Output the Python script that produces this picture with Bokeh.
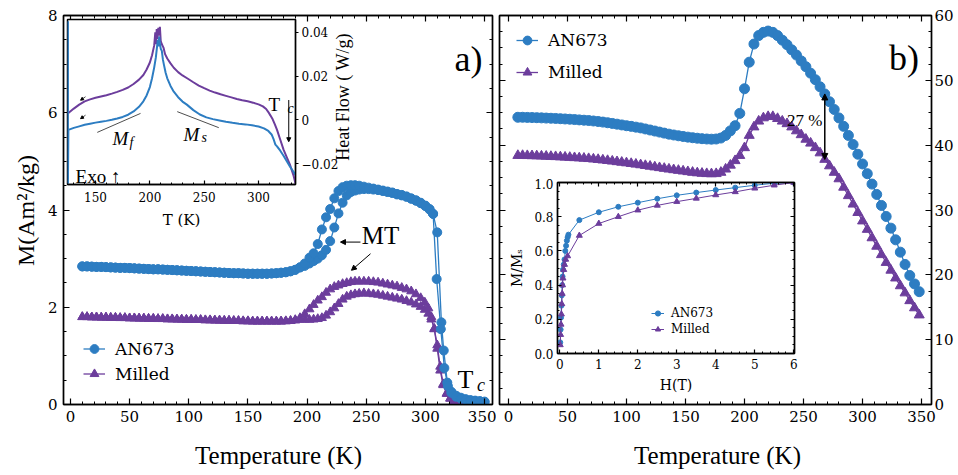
from bokeh.plotting import figure
from bokeh.models import (LinearAxis, Range1d, Legend, LegendItem, Label, Arrow,
                          NormalHead, GridBox, SingleIntervalTicker, FixedTicker,
                          PrintfTickFormatter)
from bokeh.embed import file_html
from bokeh.resources import INLINE

FONT = "Liberation Serif"
AXFONT = "DejaVu Serif"
BLUE = "#2d7dc2"
PURPLE = "#6c3d9c"

# ---------------- panel a : M(T) low field (two branches each) ----------------
a_flat_T = [10, 14, 18, 22, 26, 30, 34, 38, 42, 46, 50, 54, 58, 62, 66, 70, 74, 78, 82, 86,
            90, 94, 98, 102, 106, 110, 114, 118, 122, 126, 130, 134, 138, 142, 146, 150, 154,
            158, 162, 166, 170, 174, 178, 182, 186, 190, 194]
a_blue_flat_M = [2.84, 2.84, 2.835, 2.83, 2.83, 2.825, 2.82, 2.815, 2.81, 2.81, 2.805, 2.80,
                 2.795, 2.79, 2.785, 2.78, 2.78, 2.775, 2.77, 2.765, 2.76, 2.755, 2.75, 2.745,
                 2.74, 2.735, 2.73, 2.725, 2.72, 2.715, 2.71, 2.705, 2.70, 2.70, 2.695, 2.69,
                 2.69, 2.69, 2.69, 2.69, 2.695, 2.70, 2.71, 2.72, 2.74, 2.77, 2.82]
a_purple_flat_M = [1.80, 1.80, 1.795, 1.795, 1.79, 1.79, 1.785, 1.785, 1.78, 1.78, 1.775, 1.775,
                   1.77, 1.77, 1.765, 1.765, 1.76, 1.76, 1.755, 1.755, 1.75, 1.75, 1.745, 1.745,
                   1.74, 1.74, 1.735, 1.735, 1.73, 1.73, 1.725, 1.725, 1.72, 1.72, 1.715, 1.715,
                   1.71, 1.71, 1.71, 1.71, 1.71, 1.71, 1.71, 1.715, 1.72, 1.73, 1.745]

a_tr_T = [198, 202, 205.5, 209, 212.5, 216, 219.5, 223, 226.5, 230, 233.5, 237, 240.5, 244,
          248, 252, 256, 260, 264, 268, 272, 276, 280, 284, 288, 292, 296, 300, 303.5, 306.5]
a_blue1_tr_M = [2.90, 3.02, 3.11, 3.30, 3.60, 3.85, 4.02, 4.24, 4.39, 4.47, 4.50, 4.51, 4.51, 4.50,
                4.48, 4.46, 4.44, 4.42, 4.40, 4.38, 4.36, 4.33, 4.31, 4.28, 4.24, 4.20, 4.15, 4.09,
                4.02, 3.92]
a_blue2_tr_M = [2.85, 2.90, 2.95, 3.00, 3.07, 3.18, 3.36, 3.64, 3.93, 4.15, 4.30, 4.37, 4.40, 4.42,
                4.43, 4.43, 4.42, 4.41, 4.39, 4.37, 4.35, 4.32, 4.30, 4.27, 4.23, 4.19, 4.14, 4.08,
                4.01, 3.92]
a_blue1_tail_T = [309.5, 313, 316, 319, 322, 326, 330, 334, 338, 342, 346, 350]
a_blue1_tail_M = [2.58, 1.55, 0.75, 0.38, 0.24, 0.16, 0.12, 0.10, 0.08, 0.07, 0.06, 0.05]
a_blue2_tail_T = [310, 313.5, 315.5, 318.5, 322, 326, 330, 334, 338, 342, 346, 350]
a_blue2_tail_M = [3.54, 1.69, 1.11, 0.45, 0.26, 0.18, 0.14, 0.11, 0.09, 0.08, 0.07, 0.06]

a_ptr_T = [190, 194, 198, 202, 205.5, 209, 212.5, 216, 219.5, 223, 226.5, 230, 233.5, 237,
           240.5, 244, 248, 252, 256, 260, 264, 268, 272, 276, 280, 284, 288, 292, 296, 299.5,
           302.5, 305, 307.5, 310, 312.5, 315, 318, 321, 324, 328, 332, 336, 340, 344, 348]
a_purple1_M = [1.74, 1.78, 1.86, 1.96, 2.05, 2.14, 2.21, 2.30, 2.37, 2.42, 2.45, 2.48, 2.50, 2.52,
               2.53, 2.53, 2.53, 2.53, 2.52, 2.51, 2.49, 2.47, 2.45, 2.43, 2.40, 2.37, 2.33, 2.27,
               2.19, 2.10, 1.98, 1.80, 1.55, 1.15, 0.70, 0.40, 0.22, 0.12, 0.07, 0.04, 0.03, 0.02,
               0.015, 0.01, 0.01]
a_purple2_M = [1.73, 1.745, 1.745, 1.745, 1.75, 1.76, 1.78, 1.83, 1.90, 1.98, 2.07, 2.16, 2.22,
               2.25, 2.27, 2.28, 2.29, 2.28, 2.27, 2.26, 2.24, 2.22, 2.20, 2.18, 2.16, 2.13, 2.10,
               2.06, 2.01, 1.95, 1.87, 1.75, 1.56, 1.22, 0.78, 0.42, 0.23, 0.13, 0.08, 0.05, 0.03,
               0.02, 0.015, 0.01, 0.01]

# ---------------- inset a : DSC heat flow ----------------
dsc_purple_T = [124.5, 130, 135, 140, 145, 150, 155, 160, 165, 170, 175, 180, 185, 190, 194, 197,
                200, 202, 204, 205, 205.6, 206.3, 207, 207.8, 208.5, 209.2, 210, 211, 212.5, 214,
                216, 219, 222, 226, 230, 235, 240, 245, 250, 255, 260, 265, 270, 275, 280, 285,
                290, 295, 300, 304, 307, 309, 311, 313, 315, 317, 320, 323, 326, 329, 332, 334]
dsc_purple_H = [0.0030, 0.0052, 0.0070, 0.0085, 0.0094, 0.0101, 0.0107, 0.0113, 0.0120, 0.0128,
                0.0137, 0.0148, 0.0164, 0.0184, 0.0205, 0.0230, 0.0262, 0.0295, 0.0340, 0.0400,
                0.0345, 0.0415, 0.0370, 0.0420, 0.0385, 0.0425, 0.0360, 0.0345, 0.0330, 0.0300,
                0.0280, 0.0258, 0.0238, 0.0218, 0.0203, 0.0188, 0.0172, 0.0157, 0.0145, 0.0134,
                0.0125, 0.0117, 0.0110, 0.0103, 0.0096, 0.0090, 0.0085, 0.0079, 0.0071, 0.0062,
                0.0050, 0.0036, 0.0020, 0.0003, -0.0020, -0.0045, -0.0090, -0.0135, -0.0170,
                -0.0205, -0.0250, -0.0290]
dsc_blue_T = [124.6, 124.6, 125, 130, 135, 140, 145, 150, 155, 160, 165, 170, 175, 180, 185, 190,
              194, 197, 200, 202, 204, 205.5, 206.5, 207.3, 208, 208.6, 209.3, 210, 211, 212, 213,
              214.5, 216, 219, 222, 226, 230, 234, 240, 246, 252, 258, 264, 270, 276, 282, 288,
              294, 300, 305, 309, 312, 314, 315.5, 317, 320, 323, 326, 329, 332, 334]
dsc_blue_H = [0.045, -0.029, -0.0045, -0.0036, -0.0029, -0.0022, -0.0017, -0.0012, -0.0008,
              -0.0004, 0.0001, 0.0007, 0.0014, 0.0024, 0.0039, 0.0060, 0.0085, 0.0112, 0.0150,
              0.0190, 0.0240, 0.0285, 0.0330, 0.0365, 0.0335, 0.0380, 0.0345, 0.0325, 0.0315,
              0.0275, 0.0250, 0.0215, 0.0190, 0.0155, 0.0129, 0.0104, 0.0084, 0.0070, 0.0045,
              0.0025, 0.0012, 0.0004, -0.0002, -0.0008, -0.0013, -0.0017, -0.0020, -0.0024,
              -0.0030, -0.0038, -0.0050, -0.0066, -0.0090, -0.0112, -0.0120, -0.0140, -0.0163,
              -0.0188, -0.0213, -0.0235, -0.0250]

# ---------------- panel b : M(T) high field ----------------
b_T = [8, 12, 16, 20, 24, 28, 32, 36, 40, 44, 48, 52, 56, 60, 64, 68, 72, 76, 80, 84, 88, 92,
       96, 100, 104, 108, 112, 116, 120, 124, 128, 132, 136, 140, 144, 148, 152, 156, 160, 164,
       168, 172, 176, 180, 184, 188, 192, 196, 200, 204, 208, 212, 216, 220, 224, 228, 232, 236,
       240, 244, 248, 252, 256, 260, 264, 268, 272, 276, 280, 284, 288, 292, 296, 300, 304, 308,
       312, 316, 320, 324, 328, 332, 336, 340, 344, 348]
b_blue_M = [44.3, 44.3, 44.28, 44.26, 44.24, 44.21, 44.18, 44.15, 44.12, 44.08, 44.04, 44.0,
            43.95, 43.9, 43.85, 43.8, 43.73, 43.65, 43.56, 43.46, 43.35, 43.24, 43.12, 43.0,
            42.9, 42.78, 42.66, 42.5, 42.34, 42.18, 42.02, 41.86, 41.7, 41.57, 41.45, 41.34,
            41.24, 41.15, 41.07, 41.0, 40.95, 40.92, 40.95, 41.1, 41.5, 42.2, 43.0, 44.9, 48.7,
            52.8, 55.6, 56.9, 57.4, 57.6, 57.4, 56.9, 56.2, 55.5, 54.7, 53.9, 53.0, 52.1, 51.1,
            50.1, 49.0, 47.9, 46.7, 45.5, 44.2, 42.9, 41.5, 40.1, 38.6, 37.1, 35.6, 34.0, 32.4,
            30.7, 29.0, 27.2, 25.4, 23.5, 21.6, 19.9, 18.6, 17.4]
b_purple_M = [38.4, 38.4, 38.38, 38.36, 38.34, 38.31, 38.28, 38.25, 38.22, 38.18, 38.14, 38.1,
              38.06, 38.02, 37.97, 37.92, 37.85, 37.78, 37.7, 37.62, 37.53, 37.44, 37.35, 37.26,
              37.16, 37.06, 36.96, 36.85, 36.74, 36.63, 36.52, 36.41, 36.3, 36.2, 36.1, 36.0,
              35.9, 35.8, 35.72, 35.65, 35.6, 35.57, 35.6, 35.8, 36.3, 36.9, 37.6, 38.4, 39.6,
              41.5, 42.8, 43.7, 44.2, 44.4, 44.4, 44.1, 43.7, 43.3, 42.8, 42.2, 41.6, 40.9, 40.3,
              39.6, 38.8, 37.8, 36.8, 35.8, 34.8, 33.5, 32.2, 30.9, 29.6, 28.3, 27.0, 25.7, 24.4,
              23.1, 21.9, 20.7, 19.5, 18.3, 17.2, 16.0, 14.9, 13.8]

# ---------------- inset b : M/Ms vs H ----------------
mh_blue_H = [0.01, 0.02, 0.03, 0.04, 0.05, 0.06, 0.07, 0.08, 0.10, 0.12, 0.14, 0.16, 0.18, 0.20,
             0.22, 0.5, 1.0, 1.5, 2.0, 2.5, 3.0, 3.5, 4.0, 4.5, 5.0, 5.5, 6.0]
mh_blue_M = [0.065, 0.14, 0.21, 0.28, 0.34, 0.40, 0.45, 0.49, 0.52, 0.55, 0.60, 0.63, 0.66, 0.68,
             0.695, 0.78, 0.826, 0.858, 0.882, 0.905, 0.925, 0.941, 0.956, 0.970, 0.984, 0.996, 1.0]
mh_purple_H = [0.01, 0.02, 0.03, 0.04, 0.05, 0.06, 0.07, 0.08, 0.10, 0.12, 0.15, 0.2, 0.5, 1.0,
               1.5, 2.0, 2.5, 3.0, 3.5, 4.0, 4.5, 5.0, 5.5, 6.0]
mh_purple_M = [0.05, 0.11, 0.17, 0.23, 0.29, 0.35, 0.40, 0.44, 0.49, 0.52, 0.55, 0.57, 0.69, 0.76,
               0.80, 0.838, 0.866, 0.888, 0.907, 0.927, 0.945, 0.966, 0.984, 1.0]


def style_axis(ax, labels=True, size="15px", tin=6, tmin=3, standoff=4, tout=0):
    ax.major_tick_in = tin
    ax.major_tick_out = tout
    ax.minor_tick_in = tmin
    ax.minor_tick_out = 0
    ax.axis_line_color = "black"
    ax.axis_line_width = 1.3
    ax.major_tick_line_color = "black"
    ax.minor_tick_line_color = "black"
    ax.major_tick_line_width = 1.2
    ax.minor_tick_line_width = 1.0
    ax.major_label_text_font = AXFONT
    ax.axis_label_text_font = AXFONT
    ax.axis_label_text_color = "black"
    ax.axis_label_text_font_style = "normal"
    if labels:
        ax.major_label_text_color = "black"
        ax.major_label_text_font_size = size
        ax.major_label_standoff = standoff
    else:
        ax.major_label_text_color = None
        ax.major_label_text_font_size = "1px"
        ax.major_label_standoff = 0


def base_fig(**kw):
    p = figure(output_backend="svg", toolbar_location=None, **kw)
    p.xgrid.visible = False
    p.ygrid.visible = False
    p.outline_line_color = "black"
    p.outline_line_width = 1.5
    return p


def series(p, x, y, color, marker, size, lw):
    ln = p.line(x, y, line_color=color, line_width=lw)
    sc = p.scatter(x, y, marker=marker, size=size, fill_color=color, line_color=color)
    return [ln, sc]


def lbl(p, x, y, text, size, align="left", baseline="alphabetic", style="normal", angle=0):
    p.add_layout(Label(x=x, y=y, text=text, text_font=FONT, text_font_size=size,
                       text_align=align, text_baseline=baseline, text_font_style=style,
                       text_color="black", angle=angle, angle_units="deg"))


def arrow(p, x0, y0, x1, y1, size=5, both=False, lw=1.0):
    kw = {}
    if both:
        kw["start"] = NormalHead(size=size, fill_color="black", line_color="black")
    p.add_layout(Arrow(end=NormalHead(size=size, fill_color="black", line_color="black"),
                       x_start=x0, y_start=y0, x_end=x1, y_end=y1, line_color="black",
                       line_width=lw, **kw))


def label_fig(w, h, text, size, angle=0):
    # a bare, transparent figure whose only content is one centred axis-title label
    f = figure(width=w, height=h, output_backend="svg", toolbar_location=None,
               x_axis_location=None, y_axis_location=None,
               x_range=Range1d(0, 1), y_range=Range1d(0, 1),
               min_border_left=0, min_border_right=0, min_border_top=0, min_border_bottom=0)
    f.xgrid.visible = False
    f.ygrid.visible = False
    f.outline_line_color = None
    f.background_fill_alpha = 0
    f.border_fill_alpha = 0
    lbl(f, 0.5, 0.5, text, size, align="center", baseline="middle", angle=angle)
    return f


# ================= panel a =================
pA = base_fig(width=496, height=468, x_range=Range1d(-5.9, 356.7), y_range=Range1d(0, 8),
              min_border_left=63, min_border_right=4, min_border_top=15, min_border_bottom=64)
pA.xaxis.ticker = SingleIntervalTicker(interval=50, num_minor_ticks=5)
pA.yaxis.ticker = SingleIntervalTicker(interval=2, num_minor_ticks=4)
style_axis(pA.xaxis[0], standoff=6)
style_axis(pA.yaxis[0], standoff=6)
topA = LinearAxis(ticker=SingleIntervalTicker(interval=50, num_minor_ticks=5))
style_axis(topA, labels=False)
pA.add_layout(topA, "above")
rightA = LinearAxis(ticker=SingleIntervalTicker(interval=2, num_minor_ticks=4))
style_axis(rightA, labels=False)
pA.add_layout(rightA, "right")

b1_T = a_flat_T + a_tr_T + a_blue1_tail_T
b1_M = a_blue_flat_M + a_blue1_tr_M + a_blue1_tail_M
b2_T = a_flat_T + a_tr_T + a_blue2_tail_T
b2_M = a_blue_flat_M + a_blue2_tr_M + a_blue2_tail_M
p1_T = a_flat_T[:-2] + a_ptr_T
p1_M = a_purple_flat_M[:-2] + a_purple1_M
p2_T = a_flat_T[:-2] + a_ptr_T
p2_M = a_purple_flat_M[:-2] + a_purple2_M

rp2 = series(pA, p2_T, p2_M, PURPLE, "triangle", 9, 1.3)
rp1 = series(pA, p1_T, p1_M, PURPLE, "triangle", 9, 1.3)
rb2 = series(pA, b2_T, b2_M, BLUE, "circle", 9, 1.3)
rb1 = series(pA, b1_T, b1_M, BLUE, "circle", 9, 1.3)

legA = Legend(items=[LegendItem(label="AN673", renderers=rb1),
                     LegendItem(label="Milled", renderers=rp1)],
              location=(20, 18), label_text_font=AXFONT, label_text_font_size="17px",
              label_text_color="black", glyph_width=22, glyph_height=25, label_height=25,
              label_standoff=10, spacing=0, padding=0, margin=0, border_line_color=None,
              background_fill_alpha=0)
pA.add_layout(legA)

lbl(pA, 324.5, 7.11, "a)", "36px")
lbl(pA, 262, 3.48, "MT", "25px", align="center", baseline="middle")
arrow(pA, 245.1, 3.34, 228.2, 3.34)
arrow(pA, 253.6, 3.10, 237.5, 2.76)
lbl(pA, 327.1, 0.51, "T", "26px")
lbl(pA, 343.5, 0.41, "c", "18px", style="italic")

# ================= panel b =================
pB = base_fig(width=460, height=468, x_range=Range1d(-7.55, 358.4), y_range=Range1d(0, 60),
              y_axis_location="right",
              min_border_left=3, min_border_right=21, min_border_top=15, min_border_bottom=64)
pB.xaxis.ticker = SingleIntervalTicker(interval=50, num_minor_ticks=5)
pB.yaxis.ticker = SingleIntervalTicker(interval=10, num_minor_ticks=4)
style_axis(pB.xaxis[0], standoff=6)
style_axis(pB.yaxis[0], standoff=3)
topB = LinearAxis(ticker=SingleIntervalTicker(interval=50, num_minor_ticks=5))
style_axis(topB, labels=False)
pB.add_layout(topB, "above")
leftB = LinearAxis(ticker=SingleIntervalTicker(interval=10, num_minor_ticks=4))
style_axis(leftB, labels=False)
pB.add_layout(leftB, "left")

rbp = series(pB, b_T, b_purple_M, PURPLE, "triangle", 10, 1.3)
rbb = series(pB, b_T, b_blue_M, BLUE, "circle", 10, 1.3)

legB = Legend(items=[LegendItem(label="AN673", renderers=rbb),
                     LegendItem(label="Milled", renderers=rbp)],
              location=(17, 317), label_text_font=AXFONT, label_text_font_size="17px",
              label_text_color="black", glyph_width=22, glyph_height=30, label_height=30,
              label_standoff=10, spacing=2, padding=0, margin=0, border_line_color=None,
              background_fill_alpha=0)
pB.add_layout(legB)

lbl(pB, 322.5, 53.4, "b)", "36px")
i268 = b_T.index(268)
arrow(pB, 268, b_purple_M[i268], 268, b_blue_M[i268], size=6, both=True, lw=1.5)
lbl(pB, 235.9, 43.8, "27 %", "17px")

# ================= inset a =================
insA = base_fig(width=292, height=219, x_range=Range1d(124.2, 334),
                y_range=Range1d(-0.0294, 0.0458), y_axis_location="right",
                min_border_left=4, min_border_right=60, min_border_top=4, min_border_bottom=50)
insA.border_fill_alpha = 0
insA.background_fill_color = "white"
insA.xaxis.ticker = SingleIntervalTicker(interval=50, num_minor_ticks=5)
insA.yaxis.ticker = FixedTicker(ticks=[-0.02, 0, 0.02, 0.04])
insA.yaxis.major_label_overrides = {-0.02: "\u22120.02", 0: "0", 0.02: "0.02", 0.04: "0.04"}
insA.xaxis.axis_label = "T (K)"
style_axis(insA.xaxis[0], size="12px", tin=4, tmin=2, standoff=7)
style_axis(insA.yaxis[0], size="12px", tin=0, tmin=0, standoff=3, tout=3)
insA.xaxis.axis_label_text_font_size = "15px"
insA.xaxis.axis_label_standoff = 6

insA.line(dsc_purple_T, dsc_purple_H, line_color=PURPLE, line_width=2)
insA.line(dsc_blue_T, dsc_blue_H, line_color=BLUE, line_width=2)
insA.segment(x0=[151.6, 225.2], y0=[-0.00565, 0.0038], x1=[191.4, 263.4], y1=[0.0030, -0.0035],
             line_color="black", line_width=0.7)
lbl(insA, 165.6, -0.0084, "M", "19px", style="italic")
lbl(insA, 181.3, -0.0103, "f", "14px", style="italic")
lbl(insA, 231.0, -0.0068, "M", "19px", style="italic")
lbl(insA, 247.5, -0.0081, "s", "14px", style="italic")
lbl(insA, 131.6, -0.0258, "Exo \u2191", "19px")
lbl(insA, 309.2, 0.0070, "T", "19px")
lbl(insA, 326.6, 0.0051, "c", "14px", style="italic")
arrow(insA, 327.8, 0.0091, 327.8, -0.0099, size=4)
arrow(insA, 140.8, 0.0106, 136.2, 0.0090, size=3, lw=0.7)
arrow(insA, 140.8, 0.0022, 136.2, 0.0006, size=3, lw=0.7)

# ================= inset b =================
insB = base_fig(width=294, height=220, x_range=Range1d(-0.06, 6.02), y_range=Range1d(0, 1),
                min_border_left=50, min_border_right=6, min_border_top=4, min_border_bottom=45)
insB.border_fill_alpha = 0
insB.background_fill_color = "white"
insB.xaxis.ticker = SingleIntervalTicker(interval=1, num_minor_ticks=5)
insB.yaxis.ticker = SingleIntervalTicker(interval=0.2, num_minor_ticks=4)
insB.yaxis.formatter = PrintfTickFormatter(format="%.1f")
insB.xaxis.axis_label = "H(T)"
insB.yaxis.axis_label = "M/M\u209b"
style_axis(insB.xaxis[0], size="12px", tin=4, tmin=2, standoff=5)
style_axis(insB.yaxis[0], size="12px", tin=4, tmin=2, standoff=4)
insB.xaxis.axis_label_text_font_size = "14px"
insB.yaxis.axis_label_text_font_size = "14px"
insB.xaxis.axis_label_standoff = 5
insB.yaxis.axis_label_standoff = 6
topIB = LinearAxis(ticker=SingleIntervalTicker(interval=1, num_minor_ticks=5))
style_axis(topIB, labels=False, tin=4, tmin=2)
insB.add_layout(topIB, "above")
rightIB = LinearAxis(ticker=SingleIntervalTicker(interval=0.2, num_minor_ticks=4))
style_axis(rightIB, labels=False, tin=4, tmin=2)
insB.add_layout(rightIB, "right")

rib = series(insB, mh_blue_H, mh_blue_M, BLUE, "circle", 5, 1.0)
rip = series(insB, mh_purple_H, mh_purple_M, PURPLE, "triangle", 6, 1.0)
legIB = Legend(items=[LegendItem(label="AN673", renderers=rib),
                      LegendItem(label="Milled", renderers=rip)],
               location=(94, 16), label_text_font=AXFONT, label_text_font_size="12px",
               label_text_color="black", glyph_width=13, glyph_height=16, label_height=16,
               label_standoff=7, spacing=0, padding=0, margin=0, border_line_color=None,
               background_fill_alpha=0)
insB.add_layout(legIB)

# ================= axis titles (centred labels in bare figures) =================
xlabA = label_fig(428, 34, "Temperature (K)", "25px")
xlabB = label_fig(436, 34, "Temperature (K)", "25px")
ylabA = label_fig(30, 380, "M(Am²/kg)", "24px", angle=90)
hf = label_fig(24, 153, "Heat Flow ( W/g)", "18px", angle=90)

# column edges: 0,10,40,63,64,330,354,355,492,496,499,506,800,935,956
# row edges:    0,15,20,173,178,234,398,400,438,468,472
grid = GridBox(children=[(pA, 0, 0, 9, 9), (pB, 0, 9, 9, 5),
                         (insA, 1, 3, 4, 4), (insB, 4, 11, 2, 1),
                         (hf, 2, 5, 1, 1), (ylabA, 2, 1, 5, 1),
                         (xlabA, 8, 4, 2, 4), (xlabB, 8, 10, 2, 3)],
               rows=["15px", "5px", "153px", "5px", "56px", "164px", "2px", "38px", "30px", "4px"],
               cols=["10px", "30px", "23px", "1px", "266px", "24px", "1px", "137px", "4px",
                     "3px", "7px", "294px", "135px", "21px"])
open("out.html", "w").write(file_html(grid, INLINE))
